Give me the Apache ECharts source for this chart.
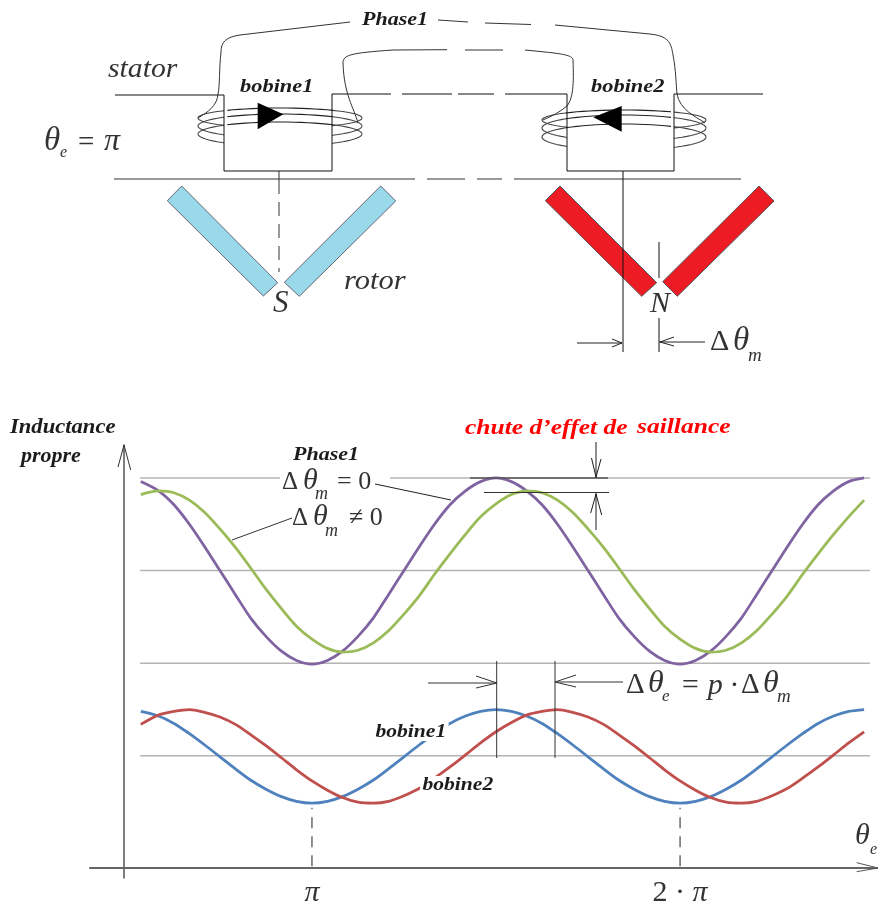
<!DOCTYPE html>
<html><head><meta charset="utf-8">
<style>html,body{margin:0;padding:0;background:#fff}#c{width:878px;height:904px}</style>
<script src="https://cdn.jsdelivr.net/npm/echarts@6/dist/echarts.min.js"></script>
</head><body><div id="c"></div>
<script>
// electrical angle, in multiples of pi
const theta = [0.535,0.583,0.625,0.667,0.708,0.75,0.792,0.833,0.875,0.917,0.958,1,
 1.042,1.083,1.125,1.167,1.208,1.25,1.292,1.333,1.375,1.417,1.458,1.5,
 1.542,1.583,1.625,1.667,1.708,1.75,1.792,1.833,1.875,1.917,1.958,2,
 2.042,2.083,2.125,2.167,2.208,2.25,2.292,2.333,2.375,2.417,2.458,2.5];
const phaseDm0 = [4.17,4.07,3.92,3.71,3.47,3.21,2.95,2.70,2.50,2.34,2.24,2.20,
 2.24,2.34,2.50,2.70,2.95,3.21,3.47,3.71,3.92,4.07,4.17,4.21,
 4.17,4.07,3.92,3.71,3.47,3.21,2.95,2.70,2.50,2.34,2.24,2.20,
 2.24,2.34,2.50,2.70,2.95,3.21,3.47,3.71,3.92,4.07,4.17,4.21];
const phaseDmNot0 = [4.03,4.07,4.05,3.97,3.84,3.66,3.46,3.24,3.01,2.80,2.61,2.47,
 2.37,2.33,2.35,2.43,2.56,2.74,2.94,3.17,3.39,3.60,3.79,3.93,
 4.03,4.07,4.05,3.97,3.84,3.66,3.46,3.24,3.01,2.80,2.61,2.47,
 2.37,2.33,2.35,2.43,2.56,2.74,2.94,3.17,3.39,3.60,3.79,3.97];
const bobine1 = [1.69,1.64,1.56,1.45,1.33,1.20,1.07,0.95,0.85,0.77,0.72,0.70,
 0.72,0.77,0.85,0.95,1.07,1.20,1.33,1.45,1.56,1.64,1.69,1.71,
 1.69,1.64,1.56,1.45,1.33,1.20,1.07,0.95,0.85,0.77,0.72,0.70,
 0.72,0.77,0.85,0.95,1.07,1.20,1.33,1.45,1.56,1.64,1.69,1.71];
const bobine2 = [1.55,1.65,1.69,1.71,1.68,1.63,1.55,1.44,1.32,1.19,1.06,0.94,
 0.84,0.76,0.71,0.70,0.72,0.78,0.86,0.97,1.09,1.22,1.35,1.47,
 1.57,1.65,1.69,1.71,1.68,1.63,1.55,1.44,1.32,1.19,1.06,0.94,
 0.84,0.76,0.71,0.70,0.72,0.78,0.86,0.97,1.09,1.22,1.35,1.47];
const levels = [1.21,2.21,3.21,4.21];
const levelSpan = [0.533,2.516];
const tickValues = [1,2];
const dropTop = 0.65;

const SERIF = '"Liberation Serif"';
const INK = '#1c1c1c', MATH = '#333';
const g = [];
function seg(x1,y1,x2,y2,color,w,dash,z){
  g.push({type:'line',z:z||20,shape:{x1,y1,x2,y2},style:{stroke:color||INK,lineWidth:w||1,lineDash:dash||null}});
}
function poly(points,color,w,z){
  g.push({type:'polyline',z:z||20,shape:{points},style:{stroke:color||INK,lineWidth:w||1,fill:null}});
}
function bez(x1,y1,cx1,cy1,cx2,cy2,x2,y2,color){
  g.push({type:'bezierCurve',z:20,shape:{x1,y1,cpx1:cx1,cpy1:cy1,cpx2:cx2,cpy2:cy2,x2,y2},style:{stroke:color||'#333',lineWidth:1,fill:null}});
}
function fillPoly(points,fill,stroke,z){
  g.push({type:'polygon',z:z||10,shape:{points},style:{fill,stroke:stroke||null,lineWidth:stroke?1:0}});
}
function tx(text,x,y,font,o){
  o=o||{};
  const style={text,font,fill:o.fill||MATH,align:'left',verticalAlign:'middle'};
  if(o.bg){style.backgroundColor='#fff';style.padding=o.bg;}
  const el={type:'text',z:40,x,y,style};
  if(o.sx){el.scaleX=o.sx;}
  g.push(el);
}
const IT=s=>`italic ${s}px ${SERIF}`, BI=s=>`italic bold ${s}px ${SERIF}`, UP=s=>`${s}px ${SERIF}`;

// ---- schematic: stator
seg(115,95,224,95,'#111');
poly([[224,95],[224,171],[332,171],[332,94]],'#111',1,24);
seg(332,94,391,94,'#111'); seg(402,94,452,94,'#111'); seg(458,94,494,94,'#111'); seg(505,94,567,94,'#111');
poly([[567,94],[567,171],[674,171],[674,94]],'#111',1,24);
seg(674,94,763,94,'#111');
seg(114,179,415,179,'#333'); seg(427,179,465,179,'#333'); seg(477,179,502,179,'#333'); seg(514,179,741,179,'#333');

// ---- schematic: coils
function coil(cx,rx,turns,bx1,bx2){
  turns.forEach(([cy,ry])=>{
    const full=[],top=[];
    for(let i=0;i<=72;i++){const a=i/72*2*Math.PI;full.push([cx+rx*Math.cos(a),cy+ry*Math.sin(a)]);}
    g.push({type:'polyline',z:12,shape:{points:full},style:{stroke:'#444',lineWidth:1.1,fill:null}});
    for(let i=0;i<=36;i++){const a=Math.PI+i/36*Math.PI;const X=cx+rx*Math.cos(a);if(X>=bx1-1&&X<=bx2+1)top.push([X,cy+ry*Math.sin(a)]);}
    g.push({type:'polyline',z:22,shape:{points:top},style:{stroke:'#222',lineWidth:1.1,fill:null}});
  });
  g.push({type:'rect',z:14,shape:{x:bx1,y:95,width:bx2-bx1,height:76},style:{fill:'#fff'}});
}
coil(280,82,[[118,10],[126,12],[134,12]],224,332);
coil(624,82,[[120,10],[128,13],[137,13]],567,674);
fillPoly([[257.7,102.7],[283.3,114.3],[257.7,129.3]],'#000',null,26);
fillPoly([[621.7,106],[593.3,117.3],[621.7,131.7]],'#000',null,26);

// ---- schematic: wires
seg(350,22,240,35,'#333');
bez(240,35,226,37,221,42,221,52);
bez(221,52,219,70,220,85,218,94);
bez(218,94,217,106,208,112,198,118);
seg(438,20,468,22,'#333'); seg(485,23,531,24.5,'#333');
seg(555,25,650,34,'#333');
bez(650,34,668,36,671,42,673,55);
bez(673,55,676,70,676,85,677,94);
bez(677,94,680,110,695,116,705,123);
bez(358,123,354,108,344,95,343,63);
bez(343,63,343,55,350,53,393,50);
seg(393,50,447,49.7,'#333'); seg(465,50,503,50,'#333');
seg(525,50,545,52,'#333');
bez(545,52,565,54,573,56,573,60);
bez(573,60,574,85,573,98,567,106);
bez(567,106,560,112,552,116,543,120);

// ---- schematic: rotor
const B='#99D9EA', R='#ED1C24';
fillPoly([[181.7,186],[277.7,282.7],[263.3,296],[167.3,200.7]],B,'#667');
fillPoly([[380.7,186],[395.7,201],[299.3,296.3],[284.3,282.3]],B,'#667');
fillPoly([[560,186],[656.7,282.7],[641.7,296.3],[545.3,200.7]],R,'#555');
fillPoly([[759,186],[774,201],[677.3,296.3],[662.7,281.7]],R,'#555');
seg(279,171,279,180,'#333'); seg(279,180,279,272,'#333',1,[14,8]);
seg(623,171,623,352,'#111');
seg(659,242,659,278,'#111'); seg(659,318,659,352,'#111');
seg(577,343,622,343,'#222'); poly([[612,339],[622,343],[612,347]],'#222');
seg(659,342,705,342,'#222'); poly([[674,337],[660,342],[674,346]],'#222');

// ---- schematic: text
tx('Phase1',362,20,BI(19),{fill:INK,sx:1.16});
tx('stator',108,70,IT(27),{sx:1.1});
tx('bobine1',240,87,BI(19),{fill:INK,sx:1.18});
tx('bobine2',591,87,BI(19),{fill:INK,sx:1.18});
tx('\u03B8',44,141,IT(33)); tx('e',60,153,IT(16)); tx('=',78,143,UP(29)); tx('\u03C0',104,142,IT(32));
tx('rotor',344,282,IT(28),{sx:1.09});
tx('S',273,304,IT(31)); tx('N',650,304,IT(30));
tx('\u0394',710,342,UP(30)); tx('\u03B8',733,341,IT(33)); tx('m',748,356,IT(19));

// ---- chart annotations
tx('Inductance',10,428,BI(20),{fill:INK,sx:1.13}); tx('propre',21,457,BI(20),{fill:INK,sx:1.1});
tx('Phase1',293,455,BI(19),{fill:INK,sx:1.16});
g.push({type:'rect',z:6,shape:{x:280,y:470,width:110,height:24},style:{fill:'#fff'}});
tx('\u0394',282,482,UP(25)); tx('\u03B8',303,481,IT(30)); tx('m',315,494,IT(18)); tx('= 0',337,482,UP(26));
tx('\u0394',292,518,UP(25)); tx('\u03B8',313,517,IT(30)); tx('m',325,531,IT(18)); tx('\u2260 0',349,518,UP(26));
seg(375,484,451,500,'#222'); seg(292,518,232,540,'#333');
tx('chute d\u2019effet de',465,428,BI(22),{fill:'#FF0000',sx:1.16});
tx('saillance',637,427,BI(22),{fill:'#FF0000',sx:1.16});
seg(470,478,608,478,'#555',1.6,null,6); seg(484,492.5,609,492.5,'#333');
seg(596,442,596,478); poly([[591.5,458],[596,477],[601,459]]);
seg(596,493,596,530); poly([[590.7,513],[596,494],[601.7,515]]);
seg(496.7,661,496.7,758,'#333'); seg(555,661,555,758,'#333');
seg(428,683,497,683,'#333'); poly([[476,676],[497,683],[476,688]],'#333');
seg(555,682,623,682,'#333'); poly([[576,675],[555,682],[576,687]],'#333');
tx('\u0394',626,685,UP(29)); tx('\u03B8',648,684,IT(32)); tx('e',662,697,IT(17));
tx('= p \u00B7',680,686,IT(30)); tx('\u0394',741,685,UP(29)); tx('\u03B8',763,684,IT(32)); tx('m',777,697,IT(19));
tx('bobine1',373,732,BI(18),{fill:INK,bg:[0,2,0,2],sx:1.2});
tx('bobine2',420,785,BI(18),{fill:INK,bg:[0,2,0,2],sx:1.2});
tx('\u03B8',855,836,IT(30)); tx('e',870,850,IT(16));
poly([[118,467],[124,445],[130.7,470]],'#333');
poly([[856.7,862.7],[878,868],[856.7,871.7]],'#555');

const curve=(name,vals,color)=>({name,type:'line',data:theta.map((t,i)=>[t,vals[i]]),
  showSymbol:false,smooth:0.3,lineStyle:{color,width:2.8},z:5,silent:true});
const rule=(name,data,color,width,type)=>({name,type:'line',data,showSymbol:false,silent:true,z:2,
  lineStyle:{color,width,type:type||'solid'}});
const labelFont=(style)=>({fontFamily:'Liberation Serif',fontSize:30,fontStyle:style,color:MATH});

const chart=echarts.init(document.getElementById('c'),null,{renderer:'canvas'});
chart.setOption({
  animation:false,
  backgroundColor:'#fff',
  grid:{left:90,right:1,top:445,bottom:26,outerBoundsMode:'none'},
  xAxis:{type:'value',min:0.397,max:2.535,splitLine:{show:false},
    axisLine:{onZero:true,lineStyle:{color:'#666',width:2}},axisTick:{show:false},
    axisLabel:{customValues:tickValues,margin:0,
      formatter:v=>v===1?'{p|\u03C0}':'{n|2 \u00B7 }{p|\u03C0}',
      rich:{p:labelFont('italic'),n:labelFont('normal')}}},
  yAxis:{type:'value',min:-0.108,max:4.565,offset:-34,splitLine:{show:false},
    axisLine:{show:true,onZero:false,lineStyle:{color:'#555',width:1.5}},
    axisTick:{show:false},axisLabel:{show:false}},
  series:[
    ...levels.map(l=>rule('niveau '+l,levelSpan.map(t=>[t,l]),'#b4b4b4',1.5)),
    ...tickValues.map(t=>rule('repere '+t,[[t,0.02],[t,dropTop]],'#444',1.2,[11,8])),
    curve('Phase1 \u0394\u03B8m = 0',phaseDm0,'#8064A2'),
    curve('Phase1 \u0394\u03B8m \u2260 0',phaseDmNot0,'#9BBB59'),
    curve('bobine1',bobine1,'#4F81BD'),
    curve('bobine2',bobine2,'#C0504D')
  ],
  graphic:{elements:g}
});
</script></body></html>
